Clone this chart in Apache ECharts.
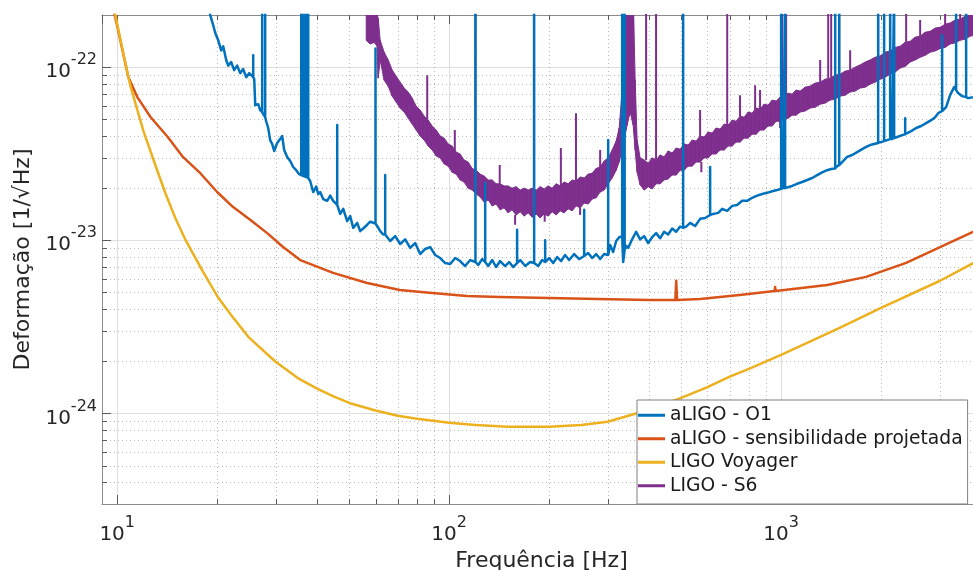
<!DOCTYPE html>
<html>
<head>
<meta charset="utf-8">
<script src="https://cdn.jsdelivr.net/npm/echarts@6/dist/echarts.min.js"></script>
<style>
html, body { margin: 0; padding: 0; background: #ffffff; }
#chart { width: 973px; height: 570px; }
</style>
</head>
<body>
<div id="chart"></div>
<script>
// Strain sensitivity curves: frequency [Hz] vs amplitude spectral density [1/sqrt(Hz)]

// aLIGO O1 measured noise: broadband trace
const o1 = [
  [18.93, 2.28e-22], [19.06, 2.00e-22], [19.46, 1.75e-22], [19.73, 1.58e-22], [20.15, 1.43e-22],
  [20.57, 1.25e-22], [20.86, 1.32e-22], [21.30, 1.10e-22], [21.60, 1.02e-22], [22.04, 1.07e-22],
  [22.51, 9.61e-23], [22.98, 1.02e-22], [23.47, 9.23e-23], [23.96, 9.74e-23], [24.47, 8.75e-23],
  [24.98, 9.23e-23], [25.87, 8.52e-23], [26.05, 6.03e-23], [26.60, 6.11e-23], [26.96, 5.65e-23],
  [27.53, 5.35e-23], [28.11, 4.87e-23], [28.50, 4.45e-23], [28.90, 3.79e-23], [29.30, 3.60e-23],
  [29.71, 3.28e-23], [30.34, 3.65e-23], [30.97, 3.84e-23], [31.40, 4.00e-23], [31.84, 3.32e-23],
  [32.51, 3.03e-23], [33.20, 2.87e-23], [33.90, 2.65e-23], [34.61, 2.54e-23], [35.34, 2.41e-23],
  [38.14, 2.20e-23], [38.94, 1.90e-23], [39.76, 2.04e-23], [40.32, 1.85e-23], [40.88, 1.90e-23],
  [41.74, 1.73e-23], [42.91, 1.69e-23], [43.82, 1.81e-23], [44.74, 1.69e-23], [46.97, 1.42e-23],
  [47.96, 1.52e-23], [49.30, 1.29e-23], [50.34, 1.38e-23], [51.40, 1.18e-23], [52.84, 1.26e-23],
  [53.96, 1.13e-23], [55.09, 1.17e-23], [56.64, 1.23e-23], [57.81, 1.28e-23], [60.68, 1.21e-23],
  [61.97, 1.13e-23], [63.27, 1.08e-23], [65.05, 1.10e-23], [66.43, 9.91e-24], [68.78, 1.056e-23],
  [71.20, 9.52e-24], [73.71, 1.013e-23], [76.31, 9.03e-24], [79.00, 9.64e-24], [81.80, 8.33e-24],
  [84.69, 8.91e-24], [87.68, 9.14e-24], [90.78, 8.22e-24], [93.96, 7.90e-24], [97.28, 7.39e-24],
  [100.7, 7.30e-24], [104.3, 7.90e-24], [107.9, 7.59e-24], [111.7, 7.10e-24], [115.7, 7.69e-24],
  [122.3, 7.20e-24], [125.7, 7.79e-24], [131.1, 7.10e-24], [134.8, 7.69e-24], [138.5, 7.01e-24],
  [142.4, 7.59e-24], [147.4, 7.10e-24], [151.6, 7.49e-24], [155.8, 7.01e-24], [163.7, 7.69e-24],
  [169.5, 7.10e-24], [175.4, 7.49e-24], [185.4, 7.10e-24], [190.6, 7.69e-24], [200.1, 7.90e-24],
  [205.7, 7.39e-24], [211.5, 8.00e-24], [217.4, 7.59e-24], [223.5, 8.22e-24], [229.8, 7.69e-24],
  [238.0, 8.33e-24], [246.4, 7.79e-24], [262.3, 8.45e-24], [269.6, 7.90e-24], [277.2, 8.33e-24],
  [285.0, 7.79e-24], [293.0, 8.33e-24], [305.5, 9.39e-24], [311.9, 8.56e-24], [318.5, 9.91e-24],
  [325.2, 1.042e-23], [334.3, 7.49e-24], [341.3, 9.27e-24], [346.1, 9.03e-24], [355.8, 1.013e-23],
  [365.8, 1.12e-23], [376.1, 1.013e-23], [386.7, 1.056e-23], [397.6, 9.64e-24], [408.7, 1.042e-23],
  [420.2, 1.10e-23], [432.0, 1.027e-23], [444.1, 1.12e-23], [456.7, 1.08e-23], [469.7, 1.17e-23],
  [482.9, 1.12e-23], [496.4, 1.20e-23], [517.5, 1.20e-23], [532.0, 1.26e-23], [550.8, 1.21e-23],
  [570.2, 1.33e-23], [590.3, 1.345e-23], [623.9, 1.42e-23], [646.0, 1.44e-23], [664.4, 1.52e-23],
  [687.8, 1.48e-23], [712.0, 1.58e-23], [737.1, 1.60e-23], [763.1, 1.69e-23], [790.0, 1.69e-23],
  [817.9, 1.76e-23], [846.7, 1.81e-23], [876.6, 1.85e-23], [907.5, 1.88e-23], [939.7, 1.92e-23],
  [972.8, 1.95e-23], [1014, 2.00e-23], [1042, 2.04e-23], [1079, 2.06e-23], [1117, 2.12e-23],
  [1157, 2.17e-23], [1198, 2.23e-23], [1240, 2.29e-23], [1284, 2.38e-23], [1329, 2.47e-23],
  [1376, 2.54e-23], [1415, 2.58e-23], [1475, 2.68e-23], [1527, 2.83e-23], [1581, 3.03e-23],
  [1637, 3.11e-23], [1694, 3.23e-23], [1754, 3.36e-23], [1804, 3.46e-23], [1854, 3.55e-23],
  [1906, 3.60e-23], [1987, 3.65e-23], [2086, 3.79e-23], [2160, 3.84e-23], [2236, 3.95e-23],
  [2315, 4.05e-23], [2397, 4.16e-23], [2464, 4.27e-23], [2551, 4.45e-23], [2641, 4.57e-23],
  [2734, 4.75e-23], [2831, 4.94e-23], [2910, 5.14e-23], [2972, 5.42e-23], [3141, 5.87e-23],
  [3229, 6.89e-23], [3320, 7.66e-23], [3413, 7.08e-23], [3510, 6.80e-23], [3659, 6.62e-23],
  [3788, 6.71e-23], [4000, 6.89e-23]
];

// aLIGO O1 narrow lines: [frequency, floor, peak]
const o1Lines = [
  [25.69, 8.75e-23, 1.17e-22], [27.34, 5.50e-23, 3e-22], [27.91, 5.14e-23, 3e-22],
  [35.84, 2.38e-23, 3e-22], [36.47, 2.35e-23, 3e-22], [37.10, 2.32e-23, 3e-22], [37.62, 2.29e-23, 3e-22],
  [46.00, 1.60e-23, 4.63e-23], [60.00, 1.25e-23, 1.28e-22], [64.16, 1.08e-23, 2.38e-23],
  [120.0, 7.49e-24, 3e-22], [128.4, 7.49e-24, 2.15e-23], [160.2, 7.39e-24, 1.15e-23],
  [180.3, 7.39e-24, 3e-22], [194.6, 7.49e-24, 1.00e-23], [255.1, 8.11e-24, 1.50e-23],
  [301.3, 8.22e-24, 3.79e-23], [332.0, 1.056e-23, 3e-22], [337.8, 8.79e-24, 3e-22],
  [506.8, 1.18e-23, 3e-22], [611.1, 1.40e-23, 2.65e-23], [1000, 1.98e-23, 3e-22],
  [1028, 2.00e-23, 3e-22], [1455, 2.60e-23, 3e-22], [1496, 2.72e-23, 3e-22],
  [1960, 3.65e-23, 3e-22], [2043, 3.74e-23, 3e-22], [2130, 3.84e-23, 3e-22],
  [2190, 3.89e-23, 3e-22], [2364, 4.10e-23, 5.07e-23], [3055, 5.58e-23, 1.53e-22],
  [3366, 7.37e-23, 3e-22], [3608, 6.71e-23, 3e-22]
];

// aLIGO design sensitivity
const design = [
  [9, 4.14e-22], [10, 1.73e-22], [10.8, 8.76e-23], [11.5, 6.71e-23], [12.6, 5.15e-23],
  [14.2, 3.95e-23], [15.8, 3.02e-23], [17.8, 2.44e-23], [20, 1.90e-23], [22.3, 1.56e-23],
  [25.2, 1.31e-23], [28.3, 1.10e-23], [31.6, 9.15e-24], [35.6, 7.69e-24], [44.7, 6.48e-24],
  [56.6, 5.67e-24], [71, 5.17e-24], [89, 4.96e-24], [113, 4.77e-24], [142, 4.71e-24],
  [200, 4.65e-24], [280, 4.58e-24], [400, 4.52e-24], [480, 4.52e-24], [483, 5.84e-24],
  [486, 4.52e-24], [570, 4.58e-24], [750, 4.83e-24], [955, 5.10e-24], [959, 5.37e-24],
  [963, 5.10e-24], [1377, 5.52e-24], [1803, 6.15e-24], [2380, 7.40e-24], [3000, 9.10e-24],
  [3784, 1.12e-23], [4000, 1.16e-23]
];

// LIGO Voyager projected sensitivity
const voyager = [
  [9, 4.86e-22], [10, 1.77e-22], [10.8, 8.76e-23], [11, 7.60e-23], [12, 4.27e-23],
  [13, 2.75e-23], [14, 1.85e-23], [15, 1.33e-23], [16, 1.02e-23], [18, 6.74e-24],
  [20, 4.77e-24], [22, 3.72e-24], [25, 2.73e-24], [30, 1.99e-24], [35, 1.60e-24],
  [40, 1.39e-24], [45, 1.25e-24], [50, 1.15e-24], [60, 1.04e-24], [70, 9.69e-25],
  [80, 9.31e-25], [100, 8.83e-25], [120, 8.59e-25], [150, 8.37e-25], [200, 8.37e-25],
  [250, 8.59e-25], [300, 8.95e-25], [400, 1.05e-24], [500, 1.23e-24], [600, 1.42e-24],
  [700, 1.63e-24], [800, 1.81e-24], [1000, 2.18e-24], [1500, 3.12e-24], [2000, 4.07e-24],
  [3000, 5.82e-24], [4000, 7.80e-24]
];

// LIGO S6 noise band: [frequency, lower edge, upper edge]
const s6 = [
  [56.25, 1.43e-22, 2.78e-22], [57.81, 1.36e-22, 2.28e-22], [59.43, 1.39e-22, 2.13e-22],
  [60.68, 1.32e-22, 2.00e-22], [61.11, 8.64e-23, 1.92e-22], [61.97, 1.10e-22, 1.43e-22],
  [63.71, 8.41e-23, 1.22e-22], [65.51, 7.77e-23, 1.10e-22], [67.36, 6.80e-23, 9.61e-23],
  [69.25, 6.28e-23, 8.87e-23], [71.20, 5.80e-23, 8.19e-23], [73.20, 5.50e-23, 7.57e-23],
  [75.27, 5.07e-23, 7.18e-23], [77.38, 4.69e-23, 6.62e-23], [79.55, 4.33e-23, 5.95e-23],
  [81.80, 4.00e-23, 5.65e-23], [84.10, 3.79e-23, 5.21e-23], [86.47, 3.50e-23, 4.94e-23],
  [88.91, 3.32e-23, 4.57e-23], [91.41, 3.07e-23, 4.33e-23], [93.96, 2.99e-23, 4.00e-23],
  [96.60, 2.76e-23, 3.89e-23], [99.33, 2.68e-23, 3.60e-23], [102.1, 2.47e-23, 3.50e-23],
  [105.0, 2.41e-23, 3.23e-23], [107.9, 2.23e-23, 3.15e-23], [110.9, 2.17e-23, 2.91e-23],
  [114.1, 2.00e-23, 2.83e-23], [117.3, 1.95e-23, 2.60e-23], [120.6, 1.85e-23, 2.54e-23],
  [124.0, 1.78e-23, 2.41e-23], [127.5, 1.66e-23, 2.35e-23], [131.1, 1.71e-23, 2.23e-23],
  [134.8, 1.58e-23, 2.23e-23], [138.5, 1.62e-23, 2.12e-23], [142.4, 1.50e-23, 2.12e-23],
  [146.4, 1.54e-23, 2.06e-23], [150.5, 1.44e-23, 2.06e-23], [154.7, 1.50e-23, 2.00e-23],
  [159.1, 1.40e-23, 2.04e-23], [163.7, 1.46e-23, 1.95e-23], [168.3, 1.38e-23, 2.00e-23],
  [173.0, 1.44e-23, 1.95e-23], [177.9, 1.36e-23, 2.00e-23], [182.9, 1.42e-23, 1.95e-23],
  [188.0, 1.345e-23, 2.04e-23], [193.3, 1.42e-23, 1.98e-23], [198.7, 1.38e-23, 2.06e-23],
  [204.3, 1.46e-23, 2.00e-23], [210.1, 1.40e-23, 2.12e-23], [215.9, 1.48e-23, 2.06e-23],
  [222.0, 1.44e-23, 2.17e-23], [228.2, 1.52e-23, 2.12e-23], [234.7, 1.48e-23, 2.23e-23],
  [241.3, 1.58e-23, 2.20e-23], [248.1, 1.54e-23, 2.32e-23], [255.1, 1.64e-23, 2.29e-23],
  [262.3, 1.62e-23, 2.41e-23], [269.6, 1.73e-23, 2.44e-23], [277.2, 1.76e-23, 2.60e-23],
  [285.0, 1.90e-23, 2.65e-23], [293.0, 1.95e-23, 2.87e-23], [301.3, 2.12e-23, 2.99e-23],
  [309.8, 2.29e-23, 3.32e-23], [318.5, 2.54e-23, 3.74e-23], [325.2, 2.83e-23, 4.45e-23],
  [332.0, 3.32e-23, 7.37e-23], [336.6, 3.79e-23, 2.78e-22], [343.7, 4.63e-23, 2.78e-22],
  [350.9, 5.50e-23, 2.78e-22], [358.3, 4.63e-23, 2.78e-22], [363.3, 3.32e-23, 8.41e-23],
  [368.3, 2.47e-23, 3.79e-23], [376.1, 2.09e-23, 2.99e-23], [386.7, 1.95e-23, 2.91e-23],
  [397.6, 2.04e-23, 2.79e-23], [408.7, 1.98e-23, 2.99e-23], [420.2, 2.12e-23, 2.91e-23],
  [432.0, 2.12e-23, 3.11e-23], [444.1, 2.23e-23, 3.03e-23], [456.7, 2.26e-23, 3.28e-23],
  [469.7, 2.38e-23, 3.19e-23], [482.9, 2.38e-23, 3.41e-23], [496.4, 2.54e-23, 3.36e-23],
  [510.4, 2.54e-23, 3.60e-23], [524.7, 2.68e-23, 3.55e-23], [539.4, 2.68e-23, 3.79e-23],
  [554.6, 2.83e-23, 3.74e-23], [570.2, 2.83e-23, 4.00e-23], [586.2, 2.99e-23, 3.95e-23],
  [602.8, 2.99e-23, 4.22e-23], [619.7, 3.15e-23, 4.16e-23], [637.1, 3.15e-23, 4.45e-23],
  [655.2, 3.32e-23, 4.39e-23], [673.6, 3.32e-23, 4.69e-23], [692.6, 3.50e-23, 4.63e-23],
  [712.0, 3.50e-23, 4.94e-23], [732.0, 3.69e-23, 4.87e-23], [752.6, 3.69e-23, 5.21e-23],
  [773.7, 3.89e-23, 5.14e-23], [795.6, 3.89e-23, 5.50e-23], [817.9, 4.10e-23, 5.42e-23],
  [840.9, 4.10e-23, 5.80e-23], [864.5, 4.33e-23, 5.73e-23], [888.8, 4.33e-23, 6.11e-23],
  [913.9, 4.57e-23, 6.03e-23], [939.7, 4.57e-23, 6.45e-23], [966.1, 4.87e-23, 6.37e-23],
  [993.1, 4.87e-23, 6.71e-23], [1021, 5.01e-23, 6.71e-23], [1050, 5.07e-23, 7.08e-23],
  [1079, 5.28e-23, 6.98e-23], [1109, 5.28e-23, 7.37e-23], [1141, 5.50e-23, 7.27e-23],
  [1181, 5.58e-23, 7.66e-23], [1223, 5.80e-23, 7.77e-23], [1266, 5.87e-23, 8.09e-23],
  [1311, 6.11e-23, 8.19e-23], [1357, 6.20e-23, 8.52e-23], [1405, 6.45e-23, 8.64e-23],
  [1455, 6.54e-23, 8.99e-23], [1506, 6.80e-23, 9.11e-23], [1559, 6.89e-23, 9.48e-23],
  [1614, 7.18e-23, 9.61e-23], [1671, 7.27e-23, 1.00e-22], [1730, 7.57e-23, 1.03e-22],
  [1791, 7.66e-23, 1.07e-22], [1854, 7.97e-23, 1.10e-22], [1919, 8.19e-23, 1.14e-22],
  [1987, 8.52e-23, 1.16e-22], [2057, 8.75e-23, 1.22e-22], [2130, 9.11e-23, 1.24e-22],
  [2205, 9.36e-23, 1.30e-22], [2283, 9.87e-23, 1.32e-22], [2364, 1.01e-22, 1.39e-22],
  [2447, 1.07e-22, 1.41e-22], [2533, 1.10e-22, 1.49e-22], [2623, 1.14e-22, 1.51e-22],
  [2716, 1.17e-22, 1.59e-22], [2811, 1.22e-22, 1.61e-22], [2910, 1.24e-22, 1.68e-22],
  [3013, 1.28e-22, 1.70e-22], [3119, 1.30e-22, 1.77e-22], [3229, 1.36e-22, 1.80e-22],
  [3343, 1.38e-22, 1.87e-22], [3461, 1.43e-22, 1.89e-22], [3583, 1.45e-22, 1.97e-22],
  [3710, 1.51e-22, 2.00e-22], [3841, 1.53e-22, 2.08e-22], [4000, 1.59e-22, 2.10e-22]
];

// LIGO S6 narrow lines and excursions: [frequency, band edge, extreme]
const s6Lines = [
  [85.9, 4.94e-23, 8.99e-23], [104.0, 3.23e-23, 4.33e-23], [120.0, 2.54e-23, 3e-22],
  [142.0, 2.12e-23, 2.72e-23], [158.0, 1.40e-23, 1.23e-23], [180.0, 2.00e-23, 3e-22],
  [194.0, 1.42e-23, 1.28e-23], [217.0, 2.06e-23, 3.41e-23], [241.0, 2.20e-23, 5.42e-23],
  [248.0, 1.54e-23, 1.40e-23], [285.0, 2.65e-23, 3.32e-23], [392.0, 2.91e-23, 3e-22],
  [420.0, 2.91e-23, 3e-22], [570.0, 4.00e-23, 5.65e-23], [575.0, 2.83e-23, 2.47e-23],
  [688.0, 4.63e-23, 3e-22], [752.0, 5.21e-23, 6.89e-23], [835.0, 5.65e-23, 7.87e-23],
  [864.0, 5.73e-23, 7.37e-23], [993.0, 4.87e-23, 4.45e-23], [1007, 6.71e-23, 3e-22],
  [1035, 6.90e-23, 3e-22], [1311, 8.19e-23, 1.10e-22], [1386, 8.64e-23, 3e-22],
  [1415, 8.70e-23, 3e-22], [1496, 9.10e-23, 3e-22], [1614, 9.61e-23, 1.25e-22],
  [1960, 1.16e-22, 3e-22], [2130, 1.24e-22, 3e-22], [2380, 1.39e-22, 3e-22],
  [2623, 1.51e-22, 1.87e-22], [3119, 1.77e-22, 3e-22], [3461, 1.89e-22, 3e-22]
];

// Minor grid positions
const xMinor = [20, 30, 40, 50, 60, 70, 80, 90, 200, 300, 400, 500, 600, 700, 800, 900, 2000, 3000];
const yMinor = [4e-25, 5e-25, 6e-25, 7e-25, 8e-25, 9e-25,
                2e-24, 3e-24, 4e-24, 5e-24, 6e-24, 7e-24, 8e-24, 9e-24,
                2e-23, 3e-23, 4e-23, 5e-23, 6e-23, 7e-23, 8e-23, 9e-23];

const legendNames = ['aLIGO - O1', 'aLIGO - sensibilidade projetada', 'LIGO Voyager', 'LIGO - S6'];

const FONT = 'DejaVu Sans';
const C_O1 = '#0072BD', C_DES = '#D95319', C_VOY = '#EDB120', C_S6 = '#7E2F8E';
const TEXT = '#262626';

// O1 trace with its narrow lines drawn as vertical strokes, in frequency order
const o1Events = o1.map(p => ({ f: p[0], pts: [[p[0], p[1]]] }))
  .concat(o1Lines.map(l => ({ f: l[0], pts: [[l[0], l[1]], [l[0], l[2]], [l[0], l[1]]] })));
o1Events.sort((a, b) => a.f - b.f);
const o1Data = [].concat(...o1Events.map(e => e.pts));

const s6LineData = [].concat(...s6Lines.map(l => [[l[0], l[1]], [l[0], l[2]], [l[0], '-']]));

function powLabel(v) {
  const lg = Math.log10(v);
  const e = Math.round(lg);
  if (Math.abs(lg - e) > 1e-6) return '';
  return '{b|10}{s|' + e + '}';
}
const supRich = {
  b: { fontFamily: FONT, fontSize: 20, color: TEXT, lineHeight: 30, verticalAlign: 'bottom' },
  s: { fontFamily: FONT, fontSize: 16, color: TEXT, verticalAlign: 'top' }
};

const axisLineStyle = { color: '#8c8c8c', width: 1 };
const tickStyle = { color: '#5a5a5a', width: 1 };

function crisp(v) { return Math.round(v) + 0.5; }
function plotClip(cs) {
  return { type: 'rect', shape: { x: cs.x, y: cs.y, width: cs.width, height: cs.height } };
}

function renderMinorX(params, api) {
  const cs = params.coordSys;
  const x = crisp(api.coord([api.value(0), 1e-23])[0]);
  const y0 = cs.y, y1 = cs.y + cs.height;
  return {
    type: 'group',
    children: [
      { type: 'line', shape: { x1: x, y1: y0, x2: x, y2: y1 }, style: { stroke: '#b8b8b8', lineWidth: 1, lineDash: [1, 3] } },
      { type: 'line', shape: { x1: x, y1: y1, x2: x, y2: y1 - 5 }, style: { stroke: tickStyle.color, lineWidth: 1 } },
      { type: 'line', shape: { x1: x, y1: y0, x2: x, y2: y0 + 5 }, style: { stroke: tickStyle.color, lineWidth: 1 } }
    ]
  };
}
function renderMinorY(params, api) {
  const cs = params.coordSys;
  const y = crisp(api.coord([100, api.value(1)])[1]);
  const x0 = cs.x, x1 = cs.x + cs.width;
  return {
    type: 'group',
    children: [
      { type: 'line', shape: { x1: x0, y1: y, x2: x1, y2: y }, style: { stroke: '#b8b8b8', lineWidth: 1, lineDash: [1, 3] } },
      { type: 'line', shape: { x1: x0, y1: y, x2: x0 + 5, y2: y }, style: { stroke: tickStyle.color, lineWidth: 1 } }
    ]
  };
}

// S6 band: one filled quad between consecutive samples of the lower and upper edges
function renderBand(params, api) {
  const i = params.dataIndex;
  if (i >= s6.length - 1) return null;
  const a = s6[i], b = s6[i + 1];
  const pts = [
    api.coord([a[0], a[1]]), api.coord([b[0], b[1]]),
    api.coord([b[0], b[2]]), api.coord([a[0], a[2]])
  ];
  return {
    type: 'polygon',
    shape: { points: pts },
    style: { fill: C_S6, stroke: C_S6, lineWidth: 1, lineJoin: 'round' },
    clipPath: plotClip(params.coordSys)
  };
}

const lineBase = { type: 'line', symbol: 'none', showSymbol: false, clip: true, connectNulls: false, silent: true };

const chart = echarts.init(document.getElementById('chart'), null, { renderer: 'canvas' });
chart.setOption({
  animation: false,
  backgroundColor: '#ffffff',
  textStyle: { fontFamily: FONT },
  grid: { left: 102, top: 15, right: -8, bottom: 66, outerBoundsMode: 'none', containLabel: false },
  legend: {
    data: legendNames,
    orient: 'vertical',
    left: 637, top: 400,
    icon: 'rect', itemWidth: 27, itemHeight: 3, itemGap: 3,
    padding: [5, 5, 8, 1],
    backgroundColor: '#ffffff', borderColor: '#7f7f7f', borderWidth: 1, borderRadius: 0,
    selectedMode: false,
    textStyle: { fontFamily: FONT, fontSize: 18.7, color: '#1a1a1a', lineHeight: 20.5 }
  },
  xAxis: [{
    type: 'log', logBase: 10, min: 9, max: 4000, position: 'bottom',
    axisLine: { show: true, lineStyle: axisLineStyle },
    axisTick: { show: true, inside: true, length: 9, lineStyle: tickStyle },
    axisLabel: { show: true, formatter: powLabel, rich: supRich, margin: 11, showMinLabel: false, showMaxLabel: false },
    splitLine: { show: true, lineStyle: { color: '#dedede', width: 1 } },
    minorTick: { show: false }, minorSplitLine: { show: false },
    name: 'Frequência [Hz]', nameLocation: 'middle', nameGap: 40,
    nameTextStyle: { fontFamily: FONT, fontSize: 22, color: TEXT }
  }, {
    type: 'log', logBase: 10, min: 9, max: 4000, position: 'top',
    axisLine: { show: true, lineStyle: axisLineStyle },
    axisTick: { show: true, inside: true, length: 9, lineStyle: tickStyle },
    axisLabel: { show: false }, splitLine: { show: false }
  }],
  yAxis: [{
    type: 'log', logBase: 10, min: 3e-25, max: 2e-22,
    axisLine: { show: true, lineStyle: axisLineStyle },
    axisTick: { show: true, inside: true, length: 9, lineStyle: tickStyle },
    axisLabel: { show: true, formatter: powLabel, rich: supRich, margin: 5, showMinLabel: false, showMaxLabel: false },
    splitLine: { show: true, lineStyle: { color: '#dedede', width: 1 } },
    minorTick: { show: false }, minorSplitLine: { show: false },
    name: 'Deformação [1/√Hz]', nameLocation: 'middle', nameGap: 64, nameRotate: 90,
    nameTextStyle: { fontFamily: FONT, fontSize: 22, color: TEXT }
  }],
  series: [
    { type: 'custom', name: 'grid-x', renderItem: renderMinorX, data: xMinor.map(v => [v, 1e-23]), z: 1, silent: true },
    { type: 'custom', name: 'grid-y', renderItem: renderMinorY, data: yMinor.map(v => [100, v]), z: 1, silent: true },
    {
      type: 'custom', name: 'LIGO - S6', renderItem: renderBand,
      data: s6, encode: { x: 0, y: [1, 2] },
      color: C_S6, itemStyle: { color: C_S6 }, z: 2, silent: true
    },
    Object.assign({}, lineBase, {
      name: 's6-lines', color: C_S6, z: 2,
      data: s6LineData,
      lineStyle: { color: C_S6, width: 2 }
    }),
    Object.assign({}, lineBase, {
      name: 'aLIGO - O1', color: C_O1, z: 3,
      data: o1Data,
      lineStyle: { color: C_O1, width: 2.5, join: 'round' }
    }),
    Object.assign({}, lineBase, {
      name: 'aLIGO - sensibilidade projetada', color: C_DES, z: 3,
      data: design,
      lineStyle: { color: C_DES, width: 2.5, join: 'round' }
    }),
    Object.assign({}, lineBase, {
      name: 'LIGO Voyager', color: C_VOY, z: 3,
      data: voyager,
      lineStyle: { color: C_VOY, width: 2.5, join: 'round' }
    })
  ]
});
</script>
</body>
</html>
